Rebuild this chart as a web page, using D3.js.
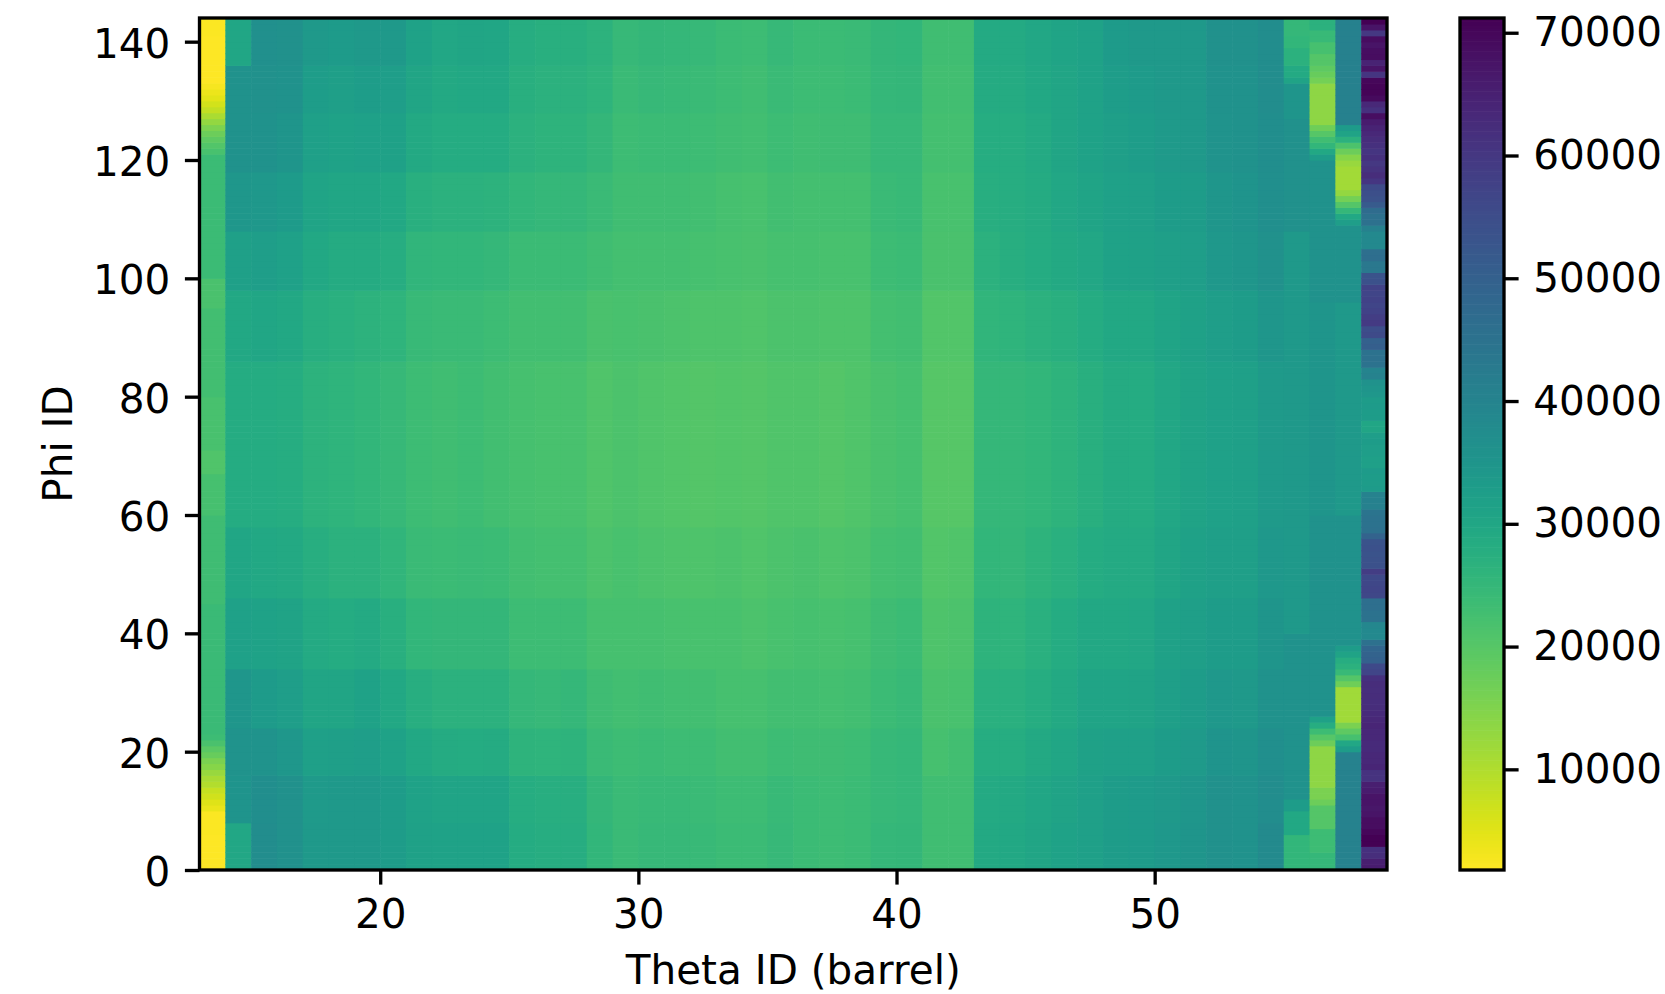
<!DOCTYPE html>
<html>
<head>
<meta charset="utf-8">
<script src="https://cdn.jsdelivr.net/npm/d3@7/dist/d3.min.js"></script>
<style>
body { margin: 0; background: #ffffff; }
svg { display: block; }
text { font-family: "DejaVu Sans", sans-serif; }
</style>
</head>
<body>
<svg id="chart" width="1665" height="994"></svg>
<script>
/////////////////////////
// Data (hit counts per cell)
/////////////////////////

var thetaIds = d3.range(13, 59);   // theta IDs 13..58
var phiIds = d3.range(0, 144);     // phi IDs 0..143

var xTicks = [20, 30, 40, 50];
var yTicks = [0, 20, 40, 60, 80, 100, 120, 140];
var cbTicks = [10000, 20000, 30000, 40000, 50000, 60000, 70000];

var countMin = 1800;
var countMax = 71200;

// phi bands used for the smooth barrel columns (theta 14..54)
var phiBandStarts = [0, 8, 16, 24, 34, 46, 58, 86, 98, 108, 118, 128, 136];

// one line per theta, one value per phi band
var bandCounts = [
    [29800, 35300, 35600, 34800, 31800, 30000, 28500, 29500, 32000, 34500, 35800, 35900, 30200], // 14
    [37500, 37300, 35500, 33500, 31200, 29700, 28600, 30000, 32500, 34300, 36000, 36400, 36700], // 15
    [36500, 36300, 34400, 32500, 31000, 29300, 28200, 29500, 31700, 33500, 35100, 35800, 36500], // 16
    [33800, 33600, 32100, 30500, 29000, 27600, 26500, 27700, 29500, 30700, 31900, 32800, 34000], // 17
    [34000, 33800, 32400, 30500, 28400, 26900, 26000, 27100, 28900, 30000, 31200, 32300, 33500], // 18
    [34000, 33800, 32700, 31100, 29100, 27000, 25400, 26700, 28700, 30200, 31700, 32800, 34000], // 19
    [33200, 33000, 31300, 29500, 27400, 25800, 24800, 26100, 28000, 29700, 31500, 32600, 33800], // 20
    [31400, 31200, 29500, 27600, 25600, 24300, 23700, 24500, 25700, 27400, 29300, 30300, 31100], // 21
    [31100, 30800, 28800, 27000, 25300, 24000, 23200, 24100, 25500, 26900, 28400, 29200, 29800], // 22
    [31100, 30800, 28600, 26800, 25200, 24100, 23500, 24300, 25500, 27000, 28600, 29600, 30400], // 23
    [31100, 30800, 28700, 27000, 25300, 23800, 22900, 23700, 24900, 26600, 28400, 29500, 30100], // 24
    [28500, 28300, 26300, 24900, 23600, 22700, 22200, 22900, 24000, 25400, 26800, 27500, 28000], // 25
    [28000, 27800, 26000, 24700, 23600, 22600, 21900, 22700, 23900, 25000, 26300, 27000, 27400], // 26
    [28000, 27800, 26200, 24900, 23700, 22600, 21900, 22700, 23900, 25000, 26300, 27000, 27400], // 27
    [25500, 25300, 24300, 23400, 22300, 21400, 20900, 21800, 23200, 24200, 25300, 26100, 26700], // 28
    [24300, 24200, 23500, 22900, 22400, 21900, 21500, 22000, 22600, 23100, 23700, 24200, 24600], // 29
    [24700, 24500, 23900, 23200, 22200, 21500, 21000, 21600, 22600, 23200, 23800, 24600, 25200], // 30
    [24600, 24400, 23600, 22900, 22100, 21300, 20700, 21500, 22600, 23200, 23800, 24400, 24900], // 31
    [24400, 24200, 23500, 22800, 21900, 21100, 20500, 21200, 22200, 22900, 23700, 24300, 24700], // 32
    [23900, 23700, 22900, 22400, 22000, 21400, 20700, 21200, 21900, 22400, 23000, 23600, 23900], // 33
    [23900, 23700, 22900, 22200, 21500, 20900, 20300, 20800, 21600, 22100, 22700, 23200, 23600], // 34
    [24600, 24400, 23500, 22900, 22100, 21500, 20900, 21400, 22200, 22800, 23500, 24100, 24600], // 35
    [23900, 23800, 23400, 22900, 22300, 21700, 21000, 21500, 22200, 22600, 23100, 23600, 23900], // 36
    [23600, 23500, 23300, 22600, 21900, 21100, 20500, 21100, 21900, 22600, 23300, 23700, 23900], // 37
    [23900, 23800, 23700, 22900, 22200, 21400, 20900, 21300, 21900, 22600, 23400, 23900, 24300], // 38
    [24900, 24800, 24700, 24000, 23400, 22500, 21700, 22500, 23600, 24200, 24800, 25000, 25200], // 39
    [25200, 25100, 25000, 24400, 23800, 22900, 22200, 22900, 23900, 24400, 24800, 25200, 25500], // 40
    [23200, 23000, 22400, 21800, 21300, 20700, 20100, 20700, 21600, 22000, 22500, 22900, 23200], // 41
    [23200, 23100, 22700, 22100, 21500, 20800, 20100, 20700, 21600, 22000, 22500, 22900, 23200], // 42
    [29200, 29000, 28100, 27200, 26200, 25500, 25000, 25700, 26800, 27600, 28300, 28700, 29000], // 43
    [29500, 29300, 28200, 27100, 26000, 25200, 24900, 26000, 27600, 28000, 28300, 28700, 29000], // 44
    [30400, 30200, 29400, 28300, 27200, 26200, 25600, 26800, 28500, 28800, 29100, 29500, 29800], // 45
    [31100, 30900, 30200, 29300, 28400, 27200, 26200, 27400, 29200, 29800, 30300, 30500, 30700], // 46
    [32000, 31900, 31600, 30800, 29700, 28400, 27500, 28400, 29800, 30600, 31300, 31300, 31100], // 47
    [33200, 33000, 31900, 30800, 29700, 29000, 28700, 29700, 31100, 31700, 32300, 32900, 33500], // 48
    [33500, 33300, 32000, 30900, 29900, 29000, 28500, 29700, 31400, 32100, 32800, 33300, 33800], // 49
    [34200, 34000, 33000, 32200, 31400, 30500, 29800, 30800, 32300, 33000, 33700, 33800, 33800], // 50
    [35000, 34800, 33700, 33000, 32300, 31500, 31000, 31600, 32600, 33200, 33800, 33900, 33800], // 51
    [36500, 36300, 35200, 34200, 33100, 32200, 31800, 32700, 34100, 34800, 35500, 36000, 36500], // 52
    [36200, 36000, 35000, 34000, 33000, 32400, 32100, 33100, 34700, 35200, 35800, 36200, 36500], // 53
    [38300, 37500, 36900, 36000, 35100, 34200, 33600, 34800, 36500, 36900, 37200, 37400, 37500]  // 54
];

// edge columns: [first phi, count] runs
var theta13Runs = [
    [0, 2000], [4, 1800], [6, 2100], [10, 4000], [11, 5200], [12, 6800], [13, 8000],
    [14, 9800], [15, 11000], [16, 12500], [17, 14500], [18, 15800], [19, 17800],
    [20, 19500], [21, 21800], [22, 23500], [23, 24300], [45, 23300], [60, 22300],
    [67, 20900], [71, 22000], [80, 22800], [95, 21600], [100, 23800], [121, 22000],
    [122, 20600], [123, 19000], [124, 17300], [125, 15600], [126, 13000], [127, 10500],
    [128, 8200], [129, 6600], [130, 5000], [131, 3800], [132, 2800], [133, 2000],
    [138, 1900], [141, 2100]
];

var theta55Runs = [
    [0, 25500], [6, 29500], [10, 33000], [12, 36000], [40, 34000], [108, 36500],
    [127, 35000], [133, 31000], [134, 29000], [136, 27000], [139, 25500], [141, 24900]
];

var theta56Runs = [
    [0, 25000], [3, 23500], [7, 20500], [11, 17500], [12, 15700], [14, 13600],
    [21, 17500], [22, 20000], [23, 23500], [24, 28000], [25, 31500], [26, 35800],
    [60, 35000], [96, 35800], [120, 33000], [121, 29500], [122, 25500], [123, 23000],
    [124, 20000], [125, 17000], [126, 13600], [133, 16500], [134, 18000], [135, 19000],
    [136, 20500], [138, 22300], [140, 24500], [142, 27000]
];

var theta57Runs = [
    [0, 40500], [20, 33000], [21, 29800], [22, 22300], [23, 19000], [24, 15700],
    [25, 11700], [31, 17000], [32, 20500], [33, 24500], [34, 27000], [35, 28000],
    [36, 31000], [37, 33000], [38, 36000], [60, 33800], [96, 36000], [109, 32500],
    [110, 29500], [111, 25000], [112, 20500], [113, 16500], [114, 13000], [115, 11500],
    [119, 12500], [120, 14500], [121, 17500], [122, 21500], [123, 27000], [124, 31000],
    [125, 33500], [126, 41000]
];

// last column, one value per phi (0..143)
var theta58Counts = [
    66000, 65500, 62000, 61500, 71000, 71000, 70000, 69000, 69000, 67500,
    67000, 67500, 67500, 66000, 65500, 61000, 61000, 64000, 63500, 63500,
    63000, 63000, 63500, 63500, 64000, 63500, 63000, 62500, 62000, 62500,
    62000, 62500, 61500, 57000, 56000, 50000, 49500, 48500, 45500, 38500,
    38500, 39000, 45000, 45000, 46000, 46000, 56500, 57000, 56500, 56000,
    59000, 54000, 53800, 53500, 54000, 53500, 49500, 45500, 45000, 45000,
    44500, 41000, 41000, 40500, 33500, 33000, 33000, 33500, 32000, 32000,
    32500, 32500, 33000, 32500, 30500, 30000, 33000, 33000, 33500, 33000,
    34500, 35000, 36000, 40500, 40000, 45000, 45500, 45000, 50500, 50000,
    55500, 55000, 59500, 59000, 57500, 57000, 57500, 57000, 57500, 54000,
    53500, 43500, 43500, 46500, 46000, 38500, 38500, 38500, 41000, 45500,
    45500, 47000, 51500, 53800, 54500, 55500, 60500, 62500, 61000, 60000,
    61500, 60500, 61500, 62500, 63500, 64500, 66000, 68500, 61500, 63500,
    69500, 70500, 70500, 70000, 60500, 67500, 64500, 69000, 68500, 67500,
    69000, 60000, 67500, 71200
];

function runValue(runs, phi){
    var v = runs[0][1];
    runs.forEach(function(r){ if (phi >= r[0]) v = r[1]; });
    return v;
}

function countAt(theta, phi){
    if (theta === 13) return runValue(theta13Runs, phi);
    if (theta === 55) return runValue(theta55Runs, phi);
    if (theta === 56) return runValue(theta56Runs, phi);
    if (theta === 57) return runValue(theta57Runs, phi);
    if (theta === 58) return theta58Counts[phi];
    var band = d3.bisectRight(phiBandStarts, phi) - 1;
    return bandCounts[theta - 14][band];
}

var cells = [];
thetaIds.forEach(function(theta){
    phiIds.forEach(function(phi){
	cells.push({theta: theta, phi: phi, count: countAt(theta, phi)});
    });
});

/////////////////////////
// Scales
/////////////////////////

var fontSize = 40.5;
var lineW = 3.33;
var tickLen = 14.6;

var x = d3.scaleLinear().domain([13, 59]).range([199.5, 1387]);
var y = d3.scaleLinear().domain([0, 144]).range([870, 18]);
// viridis reversed : low counts yellow, high counts purple
var color = d3.scaleSequential(d3.interpolateViridis).domain([countMax, countMin]);

var svg = d3.select("#chart");

/////////////////////////
// Heatmap
/////////////////////////

svg.append("g")
    .attr("id", "cells")
    .selectAll("rect")
    .data(cells)
    .enter().append("rect")
    .attr("x", function(d){ return x(d.theta); })
    .attr("y", function(d){ return y(d.phi + 1); })
    .attr("width", function(d){ return x(d.theta + 1) - x(d.theta) + 0.6; })
    .attr("height", function(d){ return y(d.phi) - y(d.phi + 1) + 0.6; })
    .attr("fill", function(d){ return color(d.count); });

// axes
function styleAxis(g){
    g.select(".domain").remove();
    g.selectAll(".tick line").attr("stroke", "#000").attr("stroke-width", lineW);
    g.selectAll(".tick text")
	.attr("fill", "#000")
	.attr("font-size", fontSize + "px")
	.attr("font-family", "DejaVu Sans");
}

svg.append("g")
    .attr("transform", "translate(0,870)")
    .call(d3.axisBottom(x).tickValues(xTicks).tickSize(tickLen).tickPadding(tickLen))
    .call(styleAxis);

svg.append("g")
    .attr("transform", "translate(199.5,0)")
    .call(d3.axisLeft(y).tickValues(yTicks).tickSize(tickLen).tickPadding(tickLen))
    .call(styleAxis)
    .selectAll(".tick text").attr("dy", "0.38em");

svg.append("rect")
    .attr("x", 199.5).attr("y", 18)
    .attr("width", 1387 - 199.5).attr("height", 852)
    .attr("fill", "none")
    .attr("stroke", "#000")
    .attr("stroke-width", lineW);

svg.append("text")
    .attr("x", (199.5 + 1387) / 2)
    .attr("y", 984)
    .attr("text-anchor", "middle")
    .attr("font-size", fontSize + "px")
    .attr("fill", "#000")
    .text("Theta ID (barrel)");

svg.append("text")
    .attr("transform", "translate(72,444) rotate(-90)")
    .attr("text-anchor", "middle")
    .attr("font-size", fontSize + "px")
    .attr("fill", "#000")
    .text("Phi ID");

/////////////////////////
// Colorbar
/////////////////////////

var cbLeft = 1460, cbRight = 1504;
var cb = d3.scaleLinear().domain([countMin, countMax]).range([870, 18]);
var levels = d3.range(0, 256);
var step = (countMax - countMin) / levels.length;

svg.append("g")
    .attr("id", "colorbar")
    .selectAll("rect")
    .data(levels)
    .enter().append("rect")
    .attr("x", cbLeft)
    .attr("width", cbRight - cbLeft)
    .attr("y", function(i){ return cb(countMin + (i + 1) * step); })
    .attr("height", function(i){ return cb(countMin + i * step) - cb(countMin + (i + 1) * step) + 0.6; })
    .attr("fill", function(i){ return color(countMin + (i + 0.5) * step); });

svg.append("g")
    .attr("transform", "translate(" + cbRight + ",0)")
    .call(d3.axisRight(cb).tickValues(cbTicks).tickFormat(d3.format("d")).tickSize(tickLen).tickPadding(tickLen))
    .call(styleAxis);

svg.append("rect")
    .attr("x", cbLeft).attr("y", 18)
    .attr("width", cbRight - cbLeft).attr("height", 852)
    .attr("fill", "none")
    .attr("stroke", "#000")
    .attr("stroke-width", lineW);
</script>
</body>
</html>
